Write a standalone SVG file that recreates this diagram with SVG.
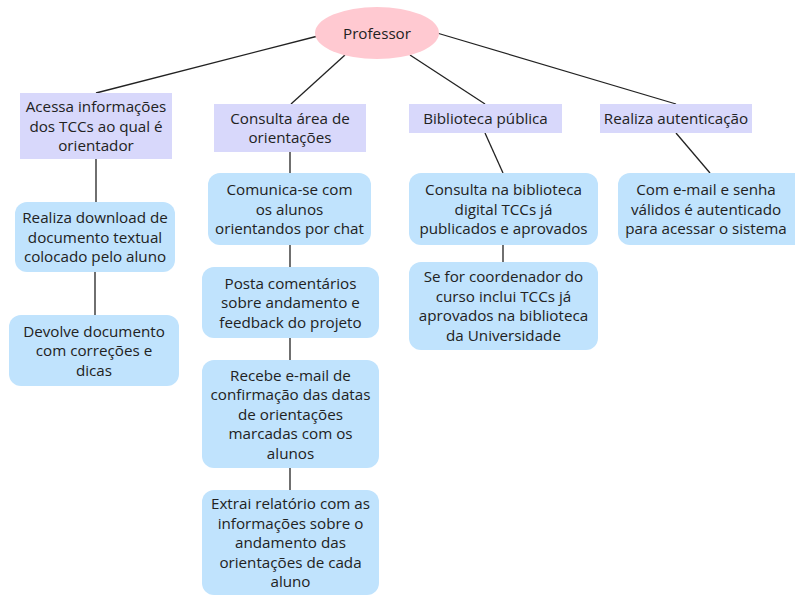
<svg xmlns="http://www.w3.org/2000/svg" width="795" height="596" viewBox="0 0 795 596">
<style>
.t{font-family:"Open Sans","Noto Sans",sans-serif;font-size:15.2px;fill:#222;text-anchor:middle}
.p{fill:#d8d8fb}
.b{fill:#c0e3fd}
.c{stroke:#222;stroke-width:1.3;fill:none}
</style>
<rect width="795" height="596" fill="#fff"/>
<g id="connectors">
<line class="c" x1="318" y1="36" x2="96" y2="93"/>
<line class="c" x1="345" y1="55" x2="291" y2="104"/>
<line class="c" x1="410" y1="55" x2="485" y2="104"/>
<line class="c" x1="437" y1="33" x2="676" y2="104"/>
<line class="c" x1="96" y1="159" x2="96" y2="202"/>
<line class="c" x1="95" y1="272" x2="95" y2="315"/>
<line class="c" x1="290" y1="152" x2="290" y2="173"/>
<line class="c" x1="290" y1="245" x2="290" y2="267"/>
<line class="c" x1="290" y1="338" x2="290" y2="360"/>
<line class="c" x1="290" y1="468" x2="290" y2="490"/>
<line class="c" x1="485" y1="133" x2="503" y2="173"/>
<line class="c" x1="503" y1="245" x2="503" y2="262"/>
<line class="c" x1="676" y1="133" x2="710" y2="173"/>
</g>
<g id="professor">
<ellipse cx="377" cy="33" rx="62" ry="26" fill="#ffc9d1"/>
<text class="t" x="377" y="38.5">Professor</text>
</g>
<g id="acessa">
<rect class="p" x="20" y="93" width="152" height="66"/>
<text class="t" x="96" y="112">Acessa informações</text>
<text class="t" x="96" y="131.5">dos TCCs ao qual é</text>
<text class="t" x="96" y="151">orientador</text>
</g>
<g id="consulta-area">
<rect class="p" x="214" y="104" width="152" height="48"/>
<text class="t" x="290" y="123.5">Consulta área de</text>
<text class="t" x="290" y="143">orientações</text>
</g>
<g id="biblioteca">
<rect class="p" x="409" y="104" width="153" height="29"/>
<text class="t" x="485.5" y="124">Biblioteca pública</text>
</g>
<g id="autenticacao">
<rect class="p" x="600" y="104" width="152" height="29"/>
<text class="t" x="676" y="124">Realiza autenticação</text>
</g>
<g id="download">
<rect class="b" x="15" y="202" width="160" height="70" rx="12"/>
<text class="t" x="95" y="223">Realiza download de</text>
<text class="t" x="95" y="242.5">documento textual</text>
<text class="t" x="95" y="262">colocado pelo aluno</text>
</g>
<g id="devolve">
<rect class="b" x="9" y="315" width="170" height="71" rx="12"/>
<text class="t" x="94" y="336.5">Devolve documento</text>
<text class="t" x="94" y="356">com correções e</text>
<text class="t" x="94" y="375.5">dicas</text>
</g>
<g id="comunica">
<rect class="b" x="208" y="173" width="163" height="72" rx="12"/>
<text class="t" x="289.5" y="195">Comunica-se com</text>
<text class="t" x="289.5" y="214.5">os alunos</text>
<text class="t" x="289.5" y="234">orientandos por chat</text>
</g>
<g id="posta">
<rect class="b" x="202" y="267" width="177" height="71" rx="12"/>
<text class="t" x="290.5" y="288.5">Posta comentários</text>
<text class="t" x="290.5" y="308">sobre andamento e</text>
<text class="t" x="290.5" y="327.5">feedback do projeto</text>
</g>
<g id="recebe">
<rect class="b" x="202" y="360" width="177" height="108" rx="12"/>
<text class="t" x="290.5" y="380.5">Recebe e-mail de</text>
<text class="t" x="290.5" y="400">confirmação das datas</text>
<text class="t" x="290.5" y="419.5">de orientações</text>
<text class="t" x="290.5" y="439">marcadas com os</text>
<text class="t" x="290.5" y="458.5">alunos</text>
</g>
<g id="extrai">
<rect class="b" x="202" y="490" width="177" height="105" rx="12"/>
<text class="t" x="290.5" y="509">Extrai relatório com as</text>
<text class="t" x="290.5" y="528.5">informações sobre o</text>
<text class="t" x="290.5" y="548">andamento das</text>
<text class="t" x="290.5" y="567.5">orientações de cada</text>
<text class="t" x="290.5" y="587">aluno</text>
</g>
<g id="consulta-biblioteca">
<rect class="b" x="409" y="173" width="189" height="72" rx="12"/>
<text class="t" x="503.5" y="195">Consulta na biblioteca</text>
<text class="t" x="503.5" y="214.5">digital TCCs já</text>
<text class="t" x="503.5" y="234">publicados e aprovados</text>
</g>
<g id="coordenador">
<rect class="b" x="409" y="262" width="189" height="88" rx="12"/>
<text class="t" x="503.5" y="282">Se for coordenador do</text>
<text class="t" x="503.5" y="301.5">curso inclui TCCs já</text>
<text class="t" x="503.5" y="321">aprovados na biblioteca</text>
<text class="t" x="503.5" y="340.5">da Universidade</text>
</g>
<g id="com-email">
<rect class="b" x="618" y="173" width="190" height="72" rx="12"/>
<text class="t" x="706" y="195">Com e-mail e senha</text>
<text class="t" x="706" y="214.5">válidos é autenticado</text>
<text class="t" x="706" y="234">para acessar o sistema</text>
</g>
</svg>
